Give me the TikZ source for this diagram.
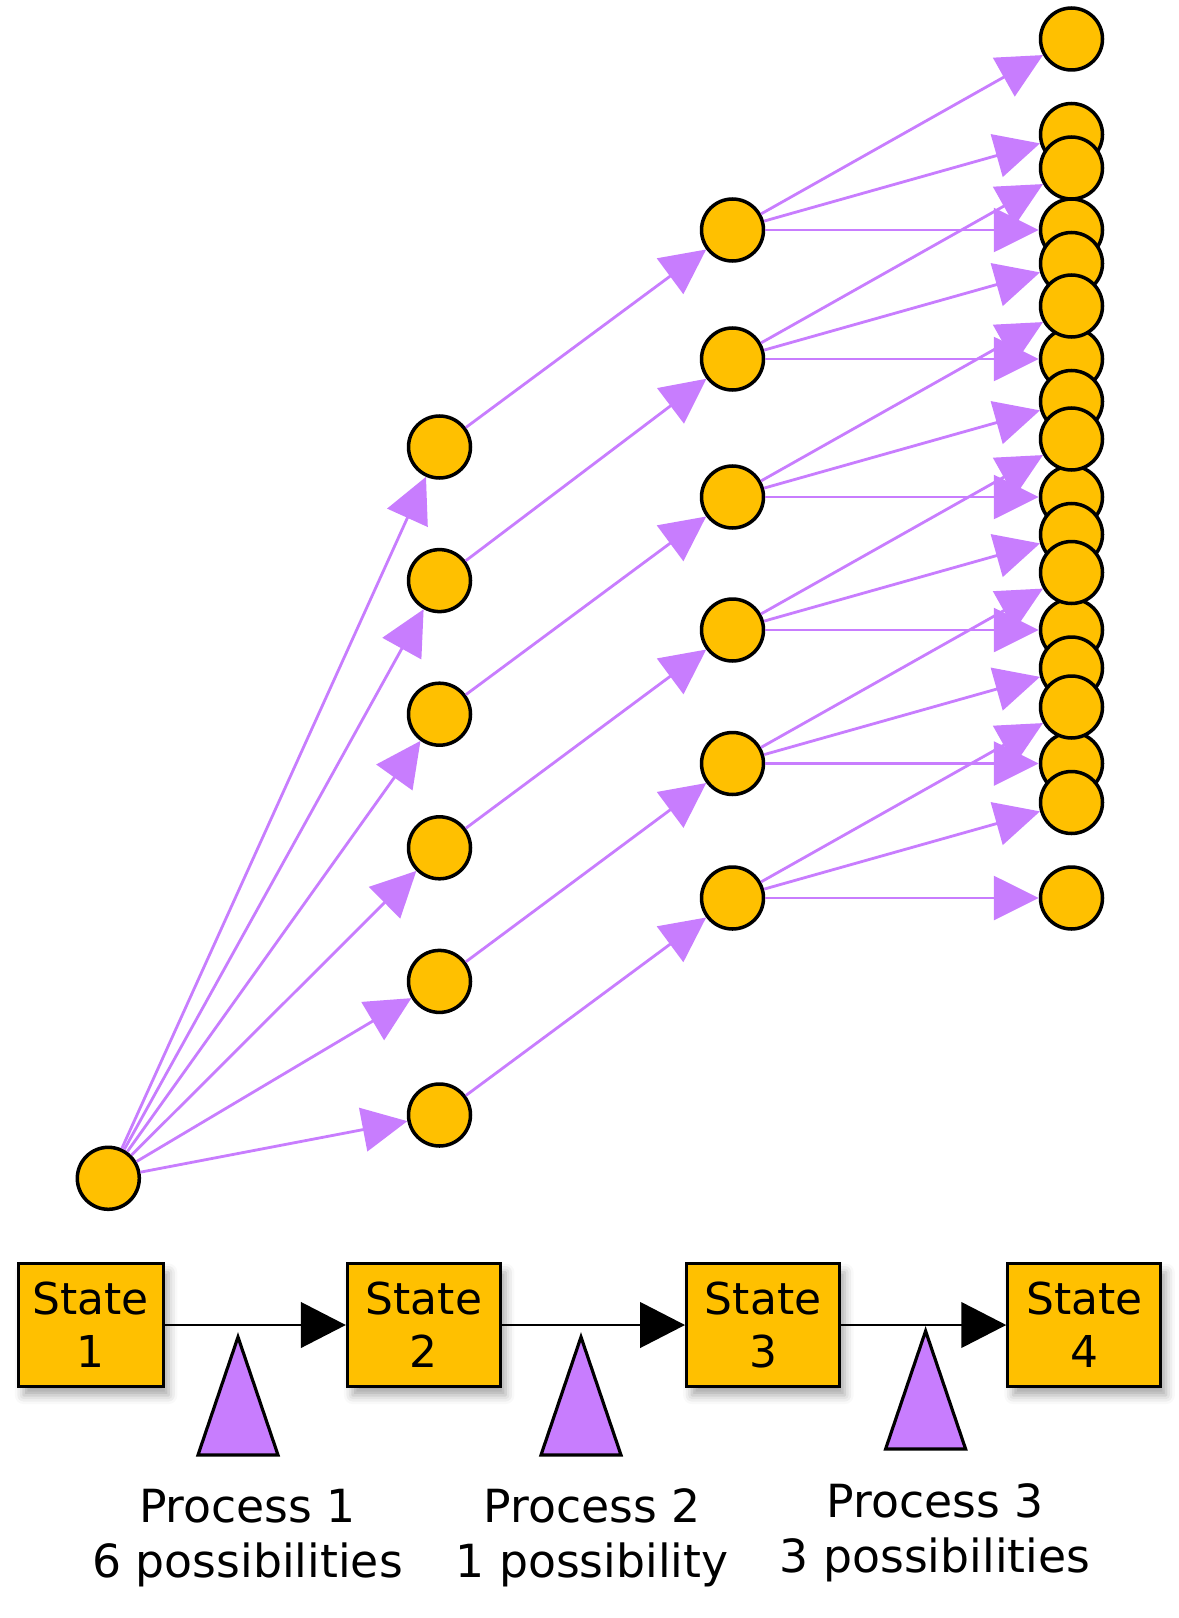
\documentclass[tikz,border=0pt]{standalone}
\usepackage{fontspec}
\setmainfont{DejaVu Sans}
\usetikzlibrary{arrows.meta,positioning,calc,shadows.blur}
\definecolor{gold}{RGB}{255,192,0}
\definecolor{lilac}{RGB}{200,125,254}

\begin{document}
\begin{tikzpicture}[x=0.02cm, y=-0.02cm]
  % styles
  \tikzstyle{dot}=[circle, draw=black, fill=gold, minimum size=1.24cm, inner sep=0pt, line width=2pt];
  \tikzstyle{branch}=[-{Triangle[length=0.9cm, width=0.88cm]}, draw=lilac, line width=1.6pt];
  \tikzstyle{box}=[rectangle, draw=black, fill=gold, minimum width=3.06cm, minimum height=2.46cm, line width=1.8pt, align=center, inner sep=0pt, font=\fontsize{25}{30}\selectfont, blur shadow={shadow xshift=3pt, shadow yshift=-5pt, shadow blur radius=5pt, shadow opacity=35}];
  \tikzstyle{flow}=[-{Triangle[length=0.9cm, width=0.91cm]}, draw=black, line width=1.6pt];
  \tikzstyle{proc}=[draw=black, fill=lilac, line width=1.8pt, line join=miter];
  \tikzstyle{lbl}=[align=center, font=\fontsize{26}{31}\selectfont];

  \useasboundingbox (0,0) rectangle (1178,1618);

  %==================== OUTCOME TREE ====================
  % start state
  \node[dot] (r) at (108.3,1178.3) {};
  % after process 1 (6 possibilities)
  \node[dot] (a1) at (439.5,447) {};
  \node[dot] (a2) at ($(a1)+(0,133.6)$) {};
  \node[dot] (a3) at ($(a2)+(0,133.6)$) {};
  \node[dot] (a4) at ($(a3)+(0,133.6)$) {};
  \node[dot] (a5) at ($(a4)+(0,133.6)$) {};
  \node[dot] (a6) at ($(a5)+(0,133.6)$) {};
  % after process 2 (1 possibility)
  \node[dot] (b1) at (732.5,230) {};
  \node[dot] (b2) at (732.5,359) {};
  \node[dot] (b3) at (732.5,497) {};
  \node[dot] (b4) at (732.5,630) {};
  \node[dot] (b5) at (732.5,763.5) {};
  \node[dot] (b6) at (732.5,898) {};
  % after process 3 (3 possibilities): straight, slight, steep
  \node[dot] (c1) at ($(b1)+(339,0)$) {};
  \node[dot] (c2) at ($(b2)+(339,0)$) {};
  \node[dot] (c3) at ($(b3)+(339,0)$) {};
  \node[dot] (c4) at ($(b4)+(339,0)$) {};
  \node[dot] (c5) at ($(b5)+(339,0)$) {};
  \node[dot] (c6) at ($(b6)+(339,0)$) {};
  \node[dot] (c7) at ($(b1)+(339,-95.5)$) {};
  \node[dot] (c8) at ($(b2)+(339,-95.5)$) {};
  \node[dot] (c9) at ($(b3)+(339,-95.5)$) {};
  \node[dot] (c10) at ($(b4)+(339,-95.5)$) {};
  \node[dot] (c11) at ($(b5)+(339,-95.5)$) {};
  \node[dot] (c12) at ($(b6)+(339,-95.5)$) {};
  \node[dot] (c13) at ($(b1)+(339,-191)$) {};
  \node[dot] (c14) at ($(b2)+(339,-191)$) {};
  \node[dot] (c15) at ($(b3)+(339,-191)$) {};
  \node[dot] (c16) at ($(b4)+(339,-191)$) {};
  \node[dot] (c17) at ($(b5)+(339,-191)$) {};
  \node[dot] (c18) at ($(b6)+(339,-191)$) {};

  % arrows
  \draw[branch] (r) -- (a1);
  \draw[branch] (r) -- (a2);
  \draw[branch] (r) -- (a3);
  \draw[branch] (r) -- (a4);
  \draw[branch] (r) -- (a5);
  \draw[branch] (r) -- (a6);
  \draw[branch] (a1) -- (b1);
  \draw[branch] (a2) -- (b2);
  \draw[branch] (a3) -- (b3);
  \draw[branch] (a4) -- (b4);
  \draw[branch] (a5) -- (b5);
  \draw[branch] (a6) -- (b6);
  \draw[branch] (b1) -- (c1);
  \draw[branch] (b1) -- (c7);
  \draw[branch] (b1) -- (c13);
  \draw[branch] (b2) -- (c2);
  \draw[branch] (b2) -- (c8);
  \draw[branch] (b2) -- (c14);
  \draw[branch] (b3) -- (c3);
  \draw[branch] (b3) -- (c9);
  \draw[branch] (b3) -- (c15);
  \draw[branch] (b4) -- (c4);
  \draw[branch] (b4) -- (c10);
  \draw[branch] (b4) -- (c16);
  \draw[branch] (b5) -- (c5);
  \draw[branch] (b5) -- (c11);
  \draw[branch] (b5) -- (c17);
  \draw[branch] (b6) -- (c6);
  \draw[branch] (b6) -- (c12);
  \draw[branch] (b6) -- (c18);

  %==================== STATE CHAIN ====================
  \node[box, minimum width=2.9cm] (S1) at (90.8,1325) {State\\1};
  \node[box] (S2) at (423.9,1325) {State\\2};
  \node[box] (S3) at (763.1,1325) {State\\3};
  \node[box] (S4) at (1084.3,1325) {State\\4};
  \draw[flow] (S1) -- (S2);
  \draw[flow] (S2) -- (S3);
  \draw[flow] (S3) -- (S4);

  % process markers
  \coordinate (T1) at (238,1337);
  \draw[proc] (T1) -- ++(40,118) -- ++(-80,0) -- cycle;
  \coordinate (T2) at (581,1337);
  \draw[proc] (T2) -- ++(40,118) -- ++(-80,0) -- cycle;
  \coordinate (T3) at (925.6,1331);
  \draw[proc] (T3) -- ++(40,118) -- ++(-80,0) -- cycle;

  \node[lbl] (p1) at (247.6,1538) {Process 1\\6 possibilities};
  \node[lbl] (p2) at (592,1538) {Process 2\\1 possibility};
  \node[lbl] (p3) at (935,1533) {Process 3\\3 possibilities};
\end{tikzpicture}
\end{document}
